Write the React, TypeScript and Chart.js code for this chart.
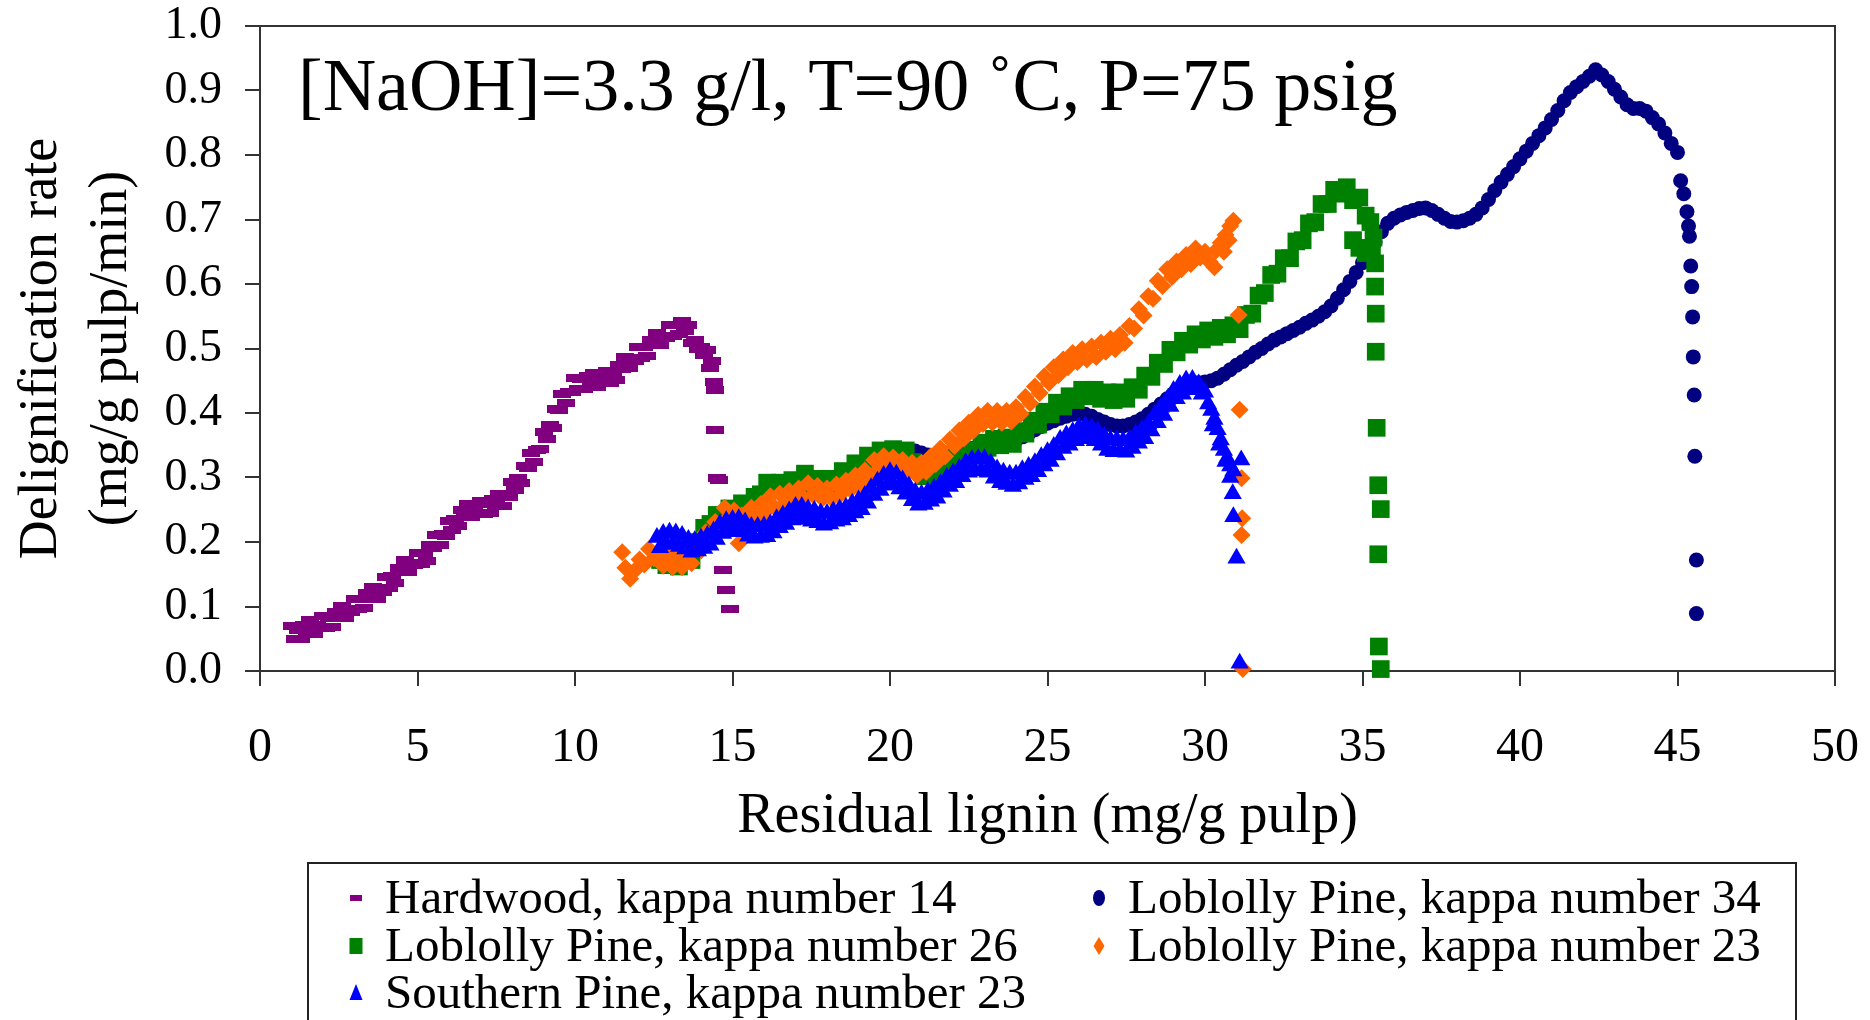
import React, { useEffect, useRef } from 'react';
import { Chart, registerables } from 'chart.js';

Chart.register(...registerables);

const FONT = '"Liberation Serif", "Times New Roman", serif';

const xTicks = [0, 5, 10, 15, 20, 25, 30, 35, 40, 45, 50];
const yTicks = [0, 0.1, 0.2, 0.3, 0.4, 0.5, 0.6, 0.7, 0.8, 0.9, 1.0];

const annotationText = '[NaOH]=3.3 g/l, T=90 \u02DAC, P=75 psig';
const xTitle = 'Residual lignin (mg/g pulp)';
const yTitle = ['Delignification rate', '(mg/g pulp/min)'];

const seriesLabels = [
  'Hardwood, kappa number 14',
  'Loblolly Pine, kappa number 34',
  'Loblolly Pine, kappa number 26',
  'Loblolly Pine, kappa number 23',
  'Southern Pine, kappa number 23',
];
const seriesColors = ['#800080', '#000080', '#008000', '#FF6600', '#0000FF'];
const seriesShapes = ['dash', 'circle', 'rect', 'rectRot', 'triangle'];

const hardwoodPoints: [number, number][] = [
  [1.0, 0.069], [1.1, 0.05], [1.2, 0.064], [1.3, 0.05], [1.4, 0.071], [1.5, 0.062], [1.6, 0.079], [1.7, 0.058], [1.8, 0.071], [1.9, 0.066],
  [2.0, 0.085], [2.1, 0.067], [2.2, 0.082], [2.3, 0.068], [2.4, 0.091], [2.5, 0.083], [2.6, 0.101], [2.7, 0.082], [2.8, 0.096], [2.9, 0.092],
  [3.0, 0.112], [3.1, 0.096], [3.2, 0.112], [3.3, 0.098], [3.4, 0.121], [3.5, 0.113], [3.6, 0.131], [3.7, 0.112], [3.8, 0.126], [3.9, 0.123],
  [4.0, 0.145], [4.1, 0.129], [4.2, 0.147], [4.3, 0.136], [4.4, 0.16], [4.5, 0.153], [4.6, 0.172], [4.7, 0.154], [4.8, 0.168], [4.9, 0.164],
  [5.0, 0.183], [5.1, 0.166], [5.2, 0.183], [5.3, 0.171], [5.4, 0.196], [5.5, 0.191], [5.6, 0.211], [5.7, 0.195], [5.8, 0.212], [5.9, 0.21],
  [6.0, 0.233], [6.1, 0.218], [6.2, 0.236], [6.3, 0.225], [6.4, 0.249], [6.5, 0.241], [6.6, 0.259], [6.7, 0.239], [6.8, 0.251], [6.9, 0.245],
  [7.0, 0.263], [7.1, 0.244], [7.2, 0.259], [7.3, 0.245], [7.4, 0.266], [7.5, 0.257], [7.6, 0.275], [7.7, 0.256], [7.8, 0.271], [7.9, 0.27],
  [8.0, 0.293], [8.1, 0.28], [8.2, 0.3], [8.3, 0.291], [8.4, 0.318], [8.5, 0.315], [8.6, 0.338], [8.7, 0.324], [8.8, 0.343], [8.9, 0.344],
  [9.0, 0.37], [9.1, 0.359], [9.2, 0.382], [9.3, 0.376], [9.4, 0.406], [9.5, 0.405], [9.6, 0.429], [9.7, 0.415], [9.8, 0.433], [9.9, 0.432],
  [10.0, 0.454], [10.1, 0.437], [10.2, 0.452], [10.3, 0.437], [10.4, 0.458], [10.5, 0.447], [10.6, 0.462], [10.7, 0.44], [10.8, 0.452], [10.9, 0.446],
  [11.0, 0.465], [11.1, 0.447], [11.2, 0.463], [11.3, 0.451], [11.4, 0.475], [11.5, 0.468], [11.6, 0.487], [11.7, 0.469], [11.8, 0.484], [11.9, 0.481],
  [12.0, 0.502], [12.1, 0.485], [12.2, 0.502], [12.3, 0.489], [12.4, 0.513], [12.5, 0.505], [12.6, 0.524], [12.7, 0.505], [12.8, 0.52], [12.9, 0.516],
  [13.0, 0.537], [13.1, 0.52], [13.2, 0.536], [13.3, 0.522], [13.4, 0.542], [13.5, 0.527], [13.6, 0.536], [13.7, 0.508], [13.8, 0.513], [13.9, 0.5],
  [14.0, 0.502], [14.1, 0.49], [14.2, 0.498], [14.3, 0.47], [14.35, 0.48], [14.4, 0.448], [14.45, 0.436], [14.43, 0.374], [14.52, 0.3], [14.58, 0.296],
  [14.69, 0.157], [14.78, 0.126], [14.92, 0.096],
];

const loblolly34Points: [number, number][] = [
  [16.8, 0.262], [17.0, 0.268], [17.2, 0.275], [17.4, 0.282], [17.6, 0.288], [17.8, 0.292], [18.0, 0.296], [18.2, 0.297], [18.4, 0.299], [18.6, 0.302],
  [18.8, 0.307], [19.0, 0.313], [19.2, 0.32], [19.4, 0.327], [19.6, 0.332], [19.8, 0.336], [20.0, 0.339], [20.2, 0.341], [20.4, 0.342], [20.6, 0.342],
  [20.8, 0.341], [21.0, 0.338], [21.2, 0.335], [21.4, 0.334], [21.6, 0.334], [21.8, 0.335], [22.0, 0.337], [22.2, 0.34], [22.4, 0.343], [22.6, 0.345],
  [22.8, 0.348], [23.0, 0.349], [23.2, 0.35], [23.4, 0.352], [23.6, 0.353], [23.8, 0.355], [24.0, 0.358], [24.2, 0.363], [24.4, 0.368], [24.6, 0.374],
  [24.8, 0.379], [25.0, 0.384], [25.2, 0.388], [25.4, 0.392], [25.6, 0.395], [25.8, 0.398], [26.0, 0.399], [26.2, 0.398], [26.4, 0.395], [26.6, 0.39],
  [26.8, 0.386], [27.0, 0.382], [27.2, 0.38], [27.4, 0.38], [27.6, 0.382], [27.8, 0.386], [28.0, 0.391], [28.2, 0.398], [28.4, 0.406], [28.6, 0.414],
  [28.8, 0.422], [29.0, 0.43], [29.2, 0.436], [29.4, 0.442], [29.6, 0.445], [29.8, 0.447], [30.0, 0.448], [30.2, 0.45], [30.4, 0.454], [30.6, 0.46],
  [30.8, 0.467], [31.0, 0.474], [31.2, 0.48], [31.4, 0.487], [31.6, 0.494], [31.8, 0.5], [32.0, 0.507], [32.2, 0.513], [32.4, 0.518], [32.6, 0.523],
  [32.8, 0.528], [33.0, 0.533], [33.2, 0.539], [33.4, 0.544], [33.6, 0.55], [33.8, 0.557], [34.0, 0.566], [34.2, 0.578], [34.4, 0.591], [34.6, 0.604],
  [34.8, 0.618], [35.0, 0.633], [35.2, 0.649], [35.4, 0.665], [35.6, 0.681], [35.8, 0.694], [36.0, 0.702], [36.2, 0.707], [36.4, 0.711], [36.6, 0.714],
  [36.8, 0.717], [37.0, 0.718], [37.2, 0.714], [37.4, 0.708], [37.6, 0.702], [37.8, 0.697], [38.0, 0.696], [38.2, 0.698], [38.4, 0.702], [38.6, 0.708],
  [38.8, 0.718], [39.0, 0.731], [39.2, 0.745], [39.4, 0.758], [39.6, 0.77], [39.8, 0.782], [40.0, 0.794], [40.2, 0.806], [40.4, 0.818], [40.6, 0.83],
  [40.8, 0.842], [41.0, 0.855], [41.2, 0.869], [41.4, 0.884], [41.6, 0.897], [41.8, 0.906], [42.0, 0.914], [42.2, 0.922], [42.4, 0.932], [42.6, 0.924],
  [42.8, 0.914], [43.0, 0.902], [43.2, 0.89], [43.4, 0.878], [43.6, 0.872], [43.8, 0.872], [44.0, 0.868], [44.2, 0.858], [44.4, 0.848], [44.6, 0.834],
  [44.8, 0.818], [45.0, 0.804], [45.1, 0.76], [45.2, 0.74], [45.3, 0.712], [45.35, 0.69], [45.38, 0.674], [45.42, 0.628], [45.45, 0.596], [45.48, 0.549],
  [45.5, 0.487], [45.53, 0.428], [45.55, 0.333], [45.6, 0.172], [45.6, 0.089],
];

const loblolly26Points: [number, number][] = [
  [12.7, 0.172], [12.9, 0.164], [13.1, 0.17], [13.3, 0.162], [13.5, 0.174], [13.7, 0.172], [13.9, 0.2], [14.1, 0.222],
  [14.3, 0.228], [14.5, 0.242], [14.7, 0.24], [14.9, 0.252], [15.1, 0.248], [15.3, 0.26], [15.5, 0.254], [15.7, 0.27],
  [15.9, 0.274], [16.1, 0.292], [16.3, 0.282], [16.5, 0.292], [16.7, 0.282], [16.9, 0.296], [17.1, 0.292], [17.3, 0.306],
  [17.5, 0.294], [17.7, 0.298], [17.9, 0.286], [18.1, 0.298], [18.3, 0.29], [18.5, 0.31], [18.7, 0.304], [18.9, 0.322],
  [19.1, 0.316], [19.3, 0.334], [19.5, 0.328], [19.7, 0.342], [19.9, 0.332], [20.1, 0.344], [20.3, 0.332], [20.5, 0.342],
  [20.7, 0.324], [20.9, 0.318], [21.1, 0.302], [21.3, 0.304], [21.5, 0.296], [21.7, 0.312], [21.9, 0.31], [22.1, 0.33],
  [22.3, 0.324], [22.5, 0.342], [22.7, 0.336], [22.9, 0.354], [23.1, 0.346], [23.3, 0.36], [23.5, 0.35], [23.7, 0.362],
  [23.9, 0.352], [24.1, 0.372], [24.3, 0.368], [24.5, 0.388], [24.7, 0.382], [24.9, 0.402], [25.1, 0.398], [25.3, 0.416],
  [25.5, 0.41], [25.7, 0.426], [25.9, 0.42], [26.1, 0.436], [26.3, 0.426], [26.5, 0.436], [26.7, 0.422], [26.9, 0.432],
  [27.1, 0.42], [27.3, 0.432], [27.5, 0.422], [27.7, 0.44], [27.9, 0.436], [28.1, 0.458], [28.3, 0.456], [28.5, 0.478],
  [28.7, 0.476], [28.9, 0.498], [29.1, 0.494], [29.3, 0.512], [29.5, 0.506], [29.7, 0.522], [29.9, 0.514], [30.1, 0.528],
  [30.3, 0.518], [30.5, 0.532], [30.7, 0.522], [30.9, 0.536], [31.1, 0.53], [31.3, 0.552], [31.5, 0.554], [31.7, 0.582],
  [31.9, 0.586], [32.1, 0.614], [32.3, 0.616], [32.5, 0.64], [32.7, 0.64], [32.9, 0.666], [33.1, 0.668], [33.3, 0.694],
  [33.5, 0.696], [33.7, 0.724], [33.9, 0.724], [34.1, 0.746], [34.3, 0.74], [34.5, 0.75], [34.7, 0.73], [34.9, 0.734],
  [35.1, 0.706], [35.25, 0.696], [35.35, 0.672], [35.3, 0.652], [35.1, 0.648], [34.9, 0.656], [34.7, 0.668], [35.4, 0.632],
  [35.4, 0.596], [35.42, 0.554], [35.42, 0.495], [35.45, 0.377], [35.5, 0.288], [35.58, 0.251], [35.5, 0.181], [35.52, 0.038],
  [35.58, 0.003],
];

const loblolly23Points: [number, number][] = [
  [11.5, 0.184], [11.6, 0.16], [11.75, 0.143], [11.9, 0.156], [12.05, 0.173], [12.2, 0.165], [12.35, 0.189], [12.5, 0.175],
  [12.65, 0.185], [12.8, 0.163], [12.95, 0.177], [13.1, 0.161], [13.25, 0.181], [13.4, 0.161], [13.55, 0.181], [13.7, 0.167],
  [13.85, 0.193], [14.0, 0.187], [14.15, 0.215], [14.3, 0.205], [14.45, 0.231], [14.6, 0.223], [14.75, 0.253], [14.9, 0.239],
  [15.05, 0.249], [15.2, 0.198], [15.3, 0.241], [15.45, 0.231], [15.6, 0.253], [15.75, 0.237], [15.9, 0.259], [16.05, 0.247],
  [16.2, 0.271], [16.35, 0.253], [16.5, 0.275], [16.65, 0.259], [16.8, 0.279], [16.95, 0.263], [17.1, 0.283], [17.25, 0.269],
  [17.4, 0.291], [17.55, 0.273], [17.7, 0.287], [17.85, 0.267], [18.0, 0.283], [18.15, 0.267], [18.3, 0.289], [18.45, 0.275],
  [18.6, 0.295], [18.75, 0.281], [18.9, 0.303], [19.05, 0.289], [19.2, 0.311], [19.35, 0.301], [19.5, 0.327], [19.65, 0.313],
  [19.8, 0.333], [19.95, 0.315], [20.1, 0.331], [20.25, 0.311], [20.4, 0.327], [20.55, 0.307], [20.7, 0.323], [20.85, 0.303],
  [21.0, 0.323], [21.15, 0.309], [21.3, 0.333], [21.45, 0.321], [21.6, 0.345], [21.75, 0.333], [21.9, 0.359], [22.05, 0.349],
  [22.2, 0.373], [22.35, 0.361], [22.5, 0.385], [22.65, 0.373], [22.8, 0.397], [22.95, 0.383], [23.1, 0.403], [23.25, 0.385],
  [23.4, 0.403], [23.55, 0.385], [23.7, 0.403], [23.85, 0.387], [24.0, 0.409], [24.15, 0.399], [24.3, 0.425], [24.45, 0.415],
  [24.6, 0.441], [24.75, 0.431], [24.9, 0.457], [25.05, 0.447], [25.2, 0.471], [25.35, 0.459], [25.5, 0.483], [25.65, 0.471],
  [25.8, 0.493], [25.95, 0.479], [26.1, 0.499], [26.25, 0.483], [26.4, 0.503], [26.55, 0.487], [26.7, 0.509], [26.85, 0.495],
  [27.0, 0.515], [27.15, 0.499], [27.3, 0.521], [27.45, 0.509], [27.6, 0.535], [27.75, 0.531], [27.9, 0.561], [28.05, 0.551],
  [28.2, 0.581], [28.35, 0.577], [28.5, 0.605], [28.65, 0.597], [28.8, 0.623], [28.95, 0.611], [29.1, 0.635], [29.25, 0.623],
  [29.4, 0.645], [29.55, 0.631], [29.7, 0.655], [29.85, 0.641], [30.0, 0.65], [30.15, 0.634], [30.3, 0.626], [30.35, 0.652],
  [30.5, 0.664], [30.6, 0.65], [30.65, 0.676], [30.75, 0.668], [30.8, 0.69], [30.9, 0.698], [31.07, 0.552], [31.1, 0.405],
  [31.16, 0.299], [31.18, 0.237], [31.16, 0.211], [31.2, 0.003],
];

const southern23Points: [number, number][] = [
  [12.6, 0.207], [12.7, 0.191], [12.8, 0.213], [12.9, 0.197], [13.0, 0.215], [13.1, 0.196], [13.2, 0.214], [13.3, 0.193], [13.4, 0.21], [13.5, 0.189],
  [13.6, 0.204], [13.7, 0.184], [13.8, 0.202], [13.9, 0.186], [14.0, 0.206], [14.1, 0.19], [14.2, 0.21], [14.3, 0.195], [14.4, 0.217], [14.5, 0.204],
  [14.6, 0.228], [14.7, 0.213], [14.8, 0.233], [14.9, 0.216], [15.0, 0.235], [15.1, 0.218], [15.2, 0.236], [15.3, 0.216], [15.4, 0.231], [15.5, 0.209],
  [15.6, 0.224], [15.7, 0.206], [15.8, 0.224], [15.9, 0.207], [16.0, 0.225], [16.1, 0.208], [16.2, 0.228], [16.3, 0.214], [16.4, 0.236], [16.5, 0.222],
  [16.6, 0.242], [16.7, 0.227], [16.8, 0.248], [16.9, 0.234], [17.0, 0.255], [17.1, 0.238], [17.2, 0.255], [17.3, 0.235], [17.4, 0.251], [17.5, 0.232],
  [17.6, 0.249], [17.7, 0.23], [17.8, 0.245], [17.9, 0.226], [18.0, 0.244], [18.1, 0.228], [18.2, 0.248], [18.3, 0.232], [18.4, 0.251], [18.5, 0.234],
  [18.6, 0.254], [18.7, 0.239], [18.8, 0.26], [18.9, 0.245], [19.0, 0.265], [19.1, 0.25], [19.2, 0.272], [19.3, 0.26], [19.4, 0.284], [19.5, 0.272],
  [19.6, 0.294], [19.7, 0.28], [19.8, 0.303], [19.9, 0.288], [20.0, 0.309], [20.1, 0.29], [20.2, 0.305], [20.3, 0.282], [20.4, 0.296], [20.5, 0.274],
  [20.6, 0.287], [20.7, 0.264], [20.8, 0.277], [20.9, 0.257], [21.0, 0.274], [21.1, 0.258], [21.2, 0.278], [21.3, 0.263], [21.4, 0.283], [21.5, 0.268],
  [21.6, 0.29], [21.7, 0.277], [21.8, 0.3], [21.9, 0.286], [22.0, 0.307], [22.1, 0.292], [22.2, 0.314], [22.3, 0.301], [22.4, 0.323], [22.5, 0.308],
  [22.6, 0.328], [22.7, 0.31], [22.8, 0.329], [22.9, 0.311], [23.0, 0.329], [23.1, 0.308], [23.2, 0.322], [23.3, 0.299], [23.4, 0.313], [23.5, 0.292],
  [23.6, 0.308], [23.7, 0.289], [23.8, 0.305], [23.9, 0.286], [24.0, 0.305], [24.1, 0.29], [24.2, 0.312], [24.3, 0.297], [24.4, 0.317], [24.5, 0.301],
  [24.6, 0.323], [24.7, 0.309], [24.8, 0.332], [24.9, 0.318], [25.0, 0.34], [25.1, 0.325], [25.2, 0.348], [25.3, 0.335], [25.4, 0.359], [25.5, 0.345],
  [25.6, 0.366], [25.7, 0.35], [25.8, 0.371], [25.9, 0.357], [26.0, 0.378], [26.1, 0.362], [26.2, 0.38], [26.3, 0.36], [26.4, 0.377], [26.5, 0.357],
  [26.6, 0.372], [26.7, 0.35], [26.8, 0.364], [26.9, 0.342], [27.0, 0.358], [27.1, 0.34], [27.2, 0.358], [27.3, 0.34], [27.4, 0.357], [27.5, 0.339],
  [27.6, 0.359], [27.7, 0.345], [27.8, 0.367], [27.9, 0.353], [28.0, 0.374], [28.1, 0.36], [28.2, 0.383], [28.3, 0.372], [28.4, 0.397], [28.5, 0.385],
  [28.6, 0.409], [28.7, 0.396], [28.8, 0.421], [28.9, 0.41], [29.0, 0.435], [29.1, 0.422], [29.2, 0.444], [29.3, 0.429], [29.4, 0.451], [29.5, 0.436],
  [29.6, 0.452], [29.7, 0.436], [29.8, 0.445], [29.9, 0.429], [30.0, 0.432], [30.1, 0.414], [30.2, 0.404], [30.25, 0.38], [30.3, 0.39], [30.4, 0.374],
  [30.45, 0.35], [30.5, 0.358], [30.6, 0.342], [30.65, 0.325], [30.7, 0.33], [30.8, 0.318], [30.8, 0.3], [30.9, 0.31], [31.15, 0.327], [30.88, 0.275],
  [30.9, 0.239], [31.0, 0.175], [31.1, 0.012],
];

const seriesPoints = [hardwoodPoints, loblolly34Points, loblolly26Points, loblolly23Points, southern23Points];
const seriesRadius = [9, 7.5, 12.5, 9, 10.5];
const seriesOrder = [4, 3, 2, 1, 0];

function drawLegendMarker(ctx: CanvasRenderingContext2D, shape: string, x: number, y: number, color: string) {
  ctx.save();
  ctx.fillStyle = color;
  ctx.beginPath();
  if (shape === 'dash') {
    ctx.rect(x - 6, y - 3, 12, 6);
  } else if (shape === 'circle') {
    ctx.ellipse(x, y, 6, 8, 0, 0, Math.PI * 2);
  } else if (shape === 'rect') {
    ctx.rect(x - 6.5, y - 8, 13, 16);
  } else if (shape === 'rectRot') {
    ctx.moveTo(x, y - 9);
    ctx.lineTo(x + 5.5, y);
    ctx.lineTo(x, y + 9);
    ctx.lineTo(x - 5.5, y);
    ctx.closePath();
  } else if (shape === 'triangle') {
    ctx.moveTo(x, y - 9);
    ctx.lineTo(x + 6.5, y + 7);
    ctx.lineTo(x - 6.5, y + 7);
    ctx.closePath();
  }
  ctx.fill();
  ctx.restore();
}

const decorPlugin = {
  id: 'decor',
  beforeDatasetsDraw(chart: any) {
    const { ctx, chartArea: a } = chart;
    ctx.save();
    ctx.strokeStyle = '#333';
    ctx.lineWidth = 2;
    ctx.strokeRect(a.left, a.top, a.right - a.left, a.bottom - a.top);
    ctx.restore();
  },
  afterDraw(chart: any) {
    const { ctx, chartArea: a } = chart;
    ctx.save();
    ctx.fillStyle = '#000';
    ctx.font = `74px ${FONT}`;
    ctx.textBaseline = 'alphabetic';
    ctx.textAlign = 'left';
    ctx.fillText(annotationText, a.left + 38, a.top + 84);

    ctx.strokeStyle = '#222';
    ctx.lineWidth = 2;
    ctx.strokeRect(308, 863, 1488, 200);
    const colMarker = [356, 1099];
    const colText = [385, 1128];
    const rowY = [898, 946, 993];
    ctx.font = `49px ${FONT}`;
    ctx.textBaseline = 'middle';
    chart.data.datasets.forEach((ds: any, i: number) => {
      const col = i % 2;
      const row = Math.floor(i / 2);
      drawLegendMarker(ctx, seriesShapes[i], colMarker[col], rowY[row], seriesColors[i]);
      ctx.fillStyle = '#000';
      ctx.fillText(ds.label, colText[col], rowY[row] + 2);
    });
    ctx.restore();
  },
};

export default function App() {
  const ref = useRef<HTMLCanvasElement>(null);
  useEffect(() => {
    document.body.style.margin = '0';
    const canvas = ref.current;
    if (!canvas) return;
    const dash = document.createElement('canvas');
    dash.width = 18;
    dash.height = 8;
    const dctx = dash.getContext('2d');
    if (dctx) {
      dctx.fillStyle = seriesColors[0];
      dctx.fillRect(0, 0, 18, 8);
    }
    const datasets = seriesLabels.map((label, i) => ({
      label,
      data: seriesPoints[i].map(([x, y]) => ({ x, y })),
      backgroundColor: seriesColors[i],
      borderColor: seriesColors[i],
      pointStyle: i === 0 ? dash : seriesShapes[i],
      pointRadius: seriesRadius[i],
      pointBorderWidth: 0,
      showLine: false,
      order: seriesOrder[i],
      clip: false as any,
    }));
    const gridOpts = {
      display: true,
      drawOnChartArea: false,
      drawTicks: true,
      tickLength: 15,
      color: '#333',
      lineWidth: 2,
    };
    const chart = new Chart(canvas, {
      type: 'scatter',
      data: { datasets: datasets as any },
      options: {
        animation: false,
        responsive: false,
        devicePixelRatio: 1,
        layout: { padding: { top: 26, right: 35, bottom: 169, left: 0 } },
        plugins: { legend: { display: false }, tooltip: { enabled: false } },
        scales: {
          x: {
            type: 'linear',
            min: 0,
            max: 50,
            afterBuildTicks: (s: any) => { s.ticks = xTicks.map((v) => ({ value: v })); },
            ticks: { font: { family: FONT, size: 48 }, color: '#000', padding: 34, maxRotation: 0, autoSkip: false },
            grid: gridOpts,
            border: { display: true, color: '#333', width: 2 },
            title: { display: true, text: xTitle, font: { family: FONT, size: 56 }, color: '#000', padding: { top: 0, bottom: 0 } },
            afterFit: (s: any) => { s.height = 180; s.paddingLeft = 0; s.paddingRight = 0; },
          },
          y: {
            type: 'linear',
            min: 0,
            max: 1,
            afterBuildTicks: (s: any) => { s.ticks = yTicks.map((v) => ({ value: v })); },
            ticks: { font: { family: FONT, size: 46 }, color: '#000', padding: 23, callback: (v: any) => Number(v).toFixed(1) },
            grid: gridOpts,
            border: { display: true, color: '#333', width: 2 },
            title: { display: true, text: yTitle, font: { family: FONT, size: 54, lineHeight: 1.3 }, color: '#000', padding: { top: 7, bottom: 0 } },
            afterFit: (s: any) => { s.width = 260; s.paddingTop = 0; s.paddingBottom = 0; },
          },
        },
      },
      plugins: [decorPlugin],
    });
    return () => chart.destroy();
  }, []);
  return (
    <div style={{ width: 1870, height: 1020, overflow: 'hidden', background: '#fff' }}>
      <canvas ref={ref} width={1870} height={1020} style={{ display: 'block', width: 1870, height: 1020 }} />
    </div>
  );
}
